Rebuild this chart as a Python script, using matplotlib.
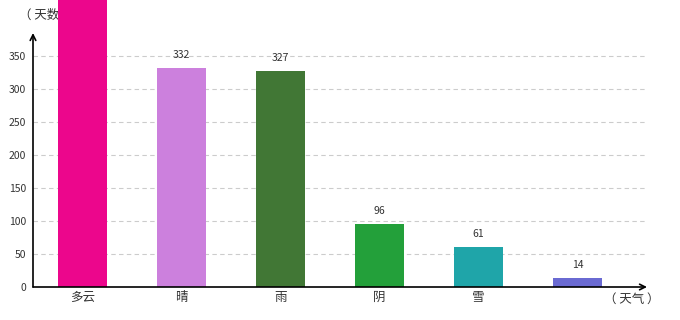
import matplotlib.pyplot as plt

plt.rcParams['font.family'] = ['Noto Sans CJK SC', 'DejaVu Sans']

# data
categories = ['多云', '晴', '雨', '阴', '雪', '']
days = [640, 332, 327, 96, 61, 14]
shown = [None, 332, 327, 96, 61, 14]   # first bar runs off the top, no label visible
colors = ['#EC068C', '#CC80DD', '#417735', '#23A03A', '#1FA5A9', '#6A6AD2']
yticks = [0, 50, 100, 150, 200, 250, 300, 350]

fig = plt.figure(figsize=(6.8, 3.2), dpi=100)
ax = fig.add_axes([33 / 680, 33 / 320, 614 / 680, 254 / 320])
ax.patch.set_alpha(0)

x = list(range(len(categories)))
ax.bar(x, days, width=0.495, color=colors, clip_on=False, zorder=3)

for xi, v in zip(x, shown):
    if v is not None:
        ax.text(xi, v + 12, str(v), ha='center', va='bottom', fontsize=7.5, color='#333333')

ax.set_xlim(-0.5, 5.70)
ax.set_ylim(0, 385)
ax.set_yticks(yticks)
ax.set_xticks(x)
ax.set_xticklabels(categories, fontsize=9, color='#333333')
ax.tick_params(axis='y', length=0, pad=5, labelsize=7.5, labelcolor='#333333')
ax.tick_params(axis='x', length=0, pad=3)

for t in yticks[1:]:
    ax.axhline(t, color='#cccccc', lw=0.8, ls=(0, (4, 3)), zorder=1)

for s in ax.spines.values():
    s.set_visible(False)

# axis lines with arrows
ax.annotate('', xy=(0, 1.0), xytext=(0, 0), xycoords='axes fraction',
            arrowprops=dict(arrowstyle='->', color='black', lw=1.2, shrinkA=0, shrinkB=0))
ax.annotate('', xy=(1.0, 0), xytext=(0, 0), xycoords='axes fraction',
            arrowprops=dict(arrowstyle='->', color='black', lw=1.2, shrinkA=0, shrinkB=0))

# unit labels, the top one sits behind the first bar
fig.text(19 / 680, 1 - 15 / 320, '（ 天数 ）', fontsize=9, color='#333333',
         va='center', ha='left', zorder=-1)
fig.text(604 / 680, 1 - 299 / 320, '（ 天气 ）', fontsize=9, color='#333333',
         va='center', ha='left')

fig.savefig('out.png', dpi=100)
